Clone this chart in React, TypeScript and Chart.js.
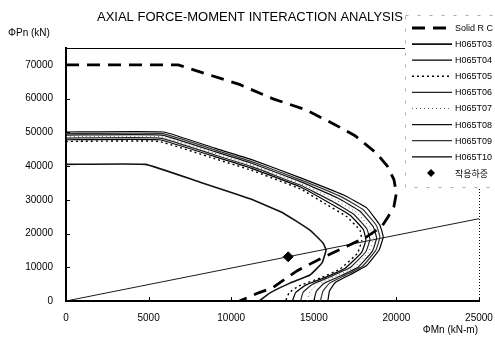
import React, { useEffect, useRef } from "react";
import { Chart, registerables } from "chart.js";

Chart.register(...registerables);

const titleText = "AXIAL FORCE-MOMENT INTERACTION ANALYSIS";
const xTitle = "ΦMn (kN-m)";
const yTitle = "ΦPn (kN)";
const xTicks = [0, 5000, 10000, 15000, 20000, 25000];
const yTicks = [0, 10000, 20000, 30000, 40000, 50000, 60000, 70000];

const solidRCM = [0, 6800, 8500, 10500, 12500, 14500, 16200, 17500, 18800, 19450, 19850, 20000, 19850, 19500, 19100, 18200, 17000, 15500, 14000, 12500, 11700, 10500];
const solidRCP = [70000, 70000, 67300, 64200, 60000, 56700, 52500, 49000, 43800, 40000, 36000, 32000, 28000, 25000, 22000, 19000, 16200, 12800, 9000, 3900, 2500, 0];

const t03M = [0, 4800, 8000, 11140, 13140, 14770, 15560, 15740, 15500, 14770, 13560, 12350, 11700];
const t03P = [40500, 40500, 35400, 30300, 26100, 21000, 17200, 15100, 11300, 7700, 5300, 2400, 0];

const t04M = [0, 5650, 9000, 11200, 14200, 15900, 17200, 18000, 18150, 17900, 16900, 15700, 14500, 13900, 13700];
const t04P = [47800, 47800, 42800, 39400, 33800, 29200, 25400, 21200, 18100, 14400, 9700, 7000, 4700, 2500, 0];

const t05M = [0, 5600, 9000, 11200, 14200, 15700, 17000, 17800, 17900, 17650, 16600, 15400, 14100, 13500, 13300];
const t05P = [47300, 47300, 42200, 38800, 33200, 28800, 25000, 20900, 17900, 14200, 9500, 6800, 4500, 2400, 0];

const t06M = [0, 5700, 9000, 11200, 14200, 16100, 17400, 18200, 18400, 18150, 17200, 16000, 14900, 14350, 14200];
const t06P = [48300, 48300, 43300, 39900, 34300, 29600, 25800, 21500, 18300, 14600, 9900, 7200, 4900, 2600, 0];

const t07M = [0, 5750, 9000, 11200, 14200, 16300, 17600, 18400, 18600, 18350, 17450, 16300, 15250, 14750, 14600];
const t07P = [48700, 48700, 43800, 40400, 34800, 30000, 26200, 21800, 18500, 14700, 10000, 7300, 5000, 2700, 0];

const t08M = [0, 5800, 9000, 11200, 14200, 16500, 17800, 18600, 18800, 18550, 17700, 16600, 15600, 15150, 15000];
const t08P = [49200, 49200, 44300, 40900, 35400, 30400, 26600, 22000, 18700, 14800, 10100, 7400, 5200, 2800, 0];

const t09M = [0, 5850, 9000, 11200, 14200, 16700, 18000, 18800, 19000, 18750, 17950, 16900, 15950, 15550, 15400];
const t09P = [49600, 49600, 44800, 41400, 35900, 30800, 27000, 22300, 18900, 15000, 10300, 7600, 5300, 2900, 0];

const t10M = [0, 5900, 9000, 11200, 14200, 16800, 18200, 19000, 19200, 18950, 18200, 17200, 16300, 15950, 15850];
const t10P = [50100, 50100, 45300, 42000, 36500, 31400, 27600, 22500, 19000, 15100, 10500, 7800, 5500, 3000, 0];

const loadLineM = [0, 25000];
const loadLineP = [0, 24400];
const loadPointM = [13450];
const loadPointP = [13100];

const FONT = "'Liberation Sans', Arial, sans-serif";

function pts(m: number[], p: number[]) {
  return m.map((v, i) => ({ x: v, y: p[i] }));
}

function curve(label: string, m: number[], p: number[], color: string, width: number, dash: number[], tension: number) {
  return {
    label,
    data: pts(m, p),
    showLine: true,
    borderColor: color,
    backgroundColor: color,
    borderWidth: width,
    borderDash: dash,
    pointRadius: 0,
    tension,
    fill: false,
  };
}

const framePlugin = {
  id: "frameAndLegend",
  afterDraw(chart: any) {
    const ctx = chart.ctx as CanvasRenderingContext2D;
    const { left, right, top, bottom } = chart.chartArea;
    const xs = chart.scales.x;
    const ys = chart.scales.y;
    ctx.save();
    ctx.strokeStyle = "#000";
    ctx.lineWidth = 1;
    ctx.setLineDash([]);
    ctx.beginPath();
    ctx.moveTo(left, top + 0.5);
    ctx.lineTo(right, top + 0.5);
    ctx.stroke();
    ctx.setLineDash([1, 2]);
    ctx.beginPath();
    ctx.moveTo(right + 0.5, top);
    ctx.lineTo(right + 0.5, bottom);
    ctx.stroke();
    ctx.setLineDash([]);
    ctx.lineWidth = 1;
    xTicks.forEach((v) => {
      const px = Math.round(xs.getPixelForValue(v)) + 0.5;
      ctx.beginPath();
      ctx.moveTo(px, bottom);
      ctx.lineTo(px, bottom - 4);
      ctx.stroke();
    });
    yTicks.forEach((v) => {
      const py = Math.round(ys.getPixelForValue(v)) + 0.5;
      ctx.beginPath();
      ctx.moveTo(left, py);
      ctx.lineTo(left + 4, py);
      ctx.stroke();
    });
    ctx.fillStyle = "#000";
    ctx.font = `13px ${FONT}`;
    ctx.textAlign = "center";
    ctx.textBaseline = "middle";
    ctx.fillText(titleText, 250, 17);
    ctx.font = `10px ${FONT}`;
    ctx.textAlign = "left";
    ctx.fillText(yTitle, 8, 33);
    ctx.textAlign = "right";
    ctx.fillText(xTitle, 478, 330);

    const bx = 405, by = 15, bw = 100, bh = 172;
    ctx.fillStyle = "#fff";
    ctx.fillRect(bx, by, bw, bh);
    ctx.strokeStyle = "#999";
    ctx.lineWidth = 0.8;
    ctx.setLineDash([3, 9]);
    ctx.strokeRect(bx + 0.5, by + 0.5, bw, bh);
    ctx.setLineDash([]);

    const items = chart.data.datasets.filter((d: any) => d.inLegend);
    items.forEach((d: any, i: number) => {
      const cy = 28 + i * 16.1;
      ctx.strokeStyle = d.borderColor;
      if (d.isPoint) {
        ctx.fillStyle = "#000";
        ctx.beginPath();
        ctx.moveTo(431, cy - 4);
        ctx.lineTo(435, cy);
        ctx.lineTo(431, cy + 4);
        ctx.lineTo(427, cy);
        ctx.closePath();
        ctx.fill();
      } else {
        ctx.lineWidth = d.borderWidth;
        ctx.setLineDash(d.borderDash || []);
        ctx.beginPath();
        ctx.moveTo(412, cy);
        ctx.lineTo(452, cy);
        ctx.stroke();
        ctx.setLineDash([]);
      }
      ctx.fillStyle = "#000";
      ctx.textAlign = "left";
      ctx.textBaseline = "middle";
      ctx.font = d.isPoint
        ? `9px 'Noto Sans CJK KR', ${FONT}`
        : `9px ${FONT}`;
      ctx.fillText(d.label, 455, cy + 0.5);
    });
    ctx.restore();
  },
};

export default function App() {
  const ref = useRef<HTMLCanvasElement | null>(null);
  useEffect(() => {
    if (!ref.current) return;
    Chart.defaults.font.family = FONT;
    const datasets: any[] = [
      { ...curve("Solid R C", solidRCM, solidRCP, "#000", 2.8, [13, 8], 0), inLegend: true },
      { ...curve("H065T03", t03M, t03P, "#111", 1.6, [], 0.1), inLegend: true },
      { ...curve("H065T04", t04M, t04P, "#000", 1.2, [], 0.1), inLegend: true },
      { ...curve("H065T05", t05M, t05P, "#000", 1.4, [2, 3], 0.1), inLegend: true },
      { ...curve("H065T06", t06M, t06P, "#222", 1.2, [], 0.1), inLegend: true },
      { ...curve("H065T07", t07M, t07P, "#666", 1, [1, 3], 0.1), inLegend: true },
      { ...curve("H065T08", t08M, t08P, "#111", 1.2, [], 0.1), inLegend: true },
      { ...curve("H065T09", t09M, t09P, "#333", 1.2, [], 0.1), inLegend: true },
      { ...curve("H065T10", t10M, t10P, "#000", 1.2, [], 0.1), inLegend: true },
      {
        label: "작용하중",
        data: pts(loadPointM, loadPointP),
        showLine: false,
        pointStyle: "rectRot",
        pointRadius: 5,
        borderColor: "#000",
        backgroundColor: "#000",
        inLegend: true,
        isPoint: true,
      },
      {
        label: "load line",
        data: pts(loadLineM, loadLineP),
        showLine: true,
        borderColor: "#000",
        borderWidth: 0.9,
        pointRadius: 0,
        inLegend: false,
      },
    ];
    const chart = new Chart(ref.current, {
      type: "scatter",
      data: { datasets },
      plugins: [framePlugin],
      options: {
        animation: false,
        responsive: false,
        layout: { padding: { top: 48, right: 16, left: 0, bottom: 0 } },
        plugins: { legend: { display: false }, tooltip: { enabled: false }, title: { display: false } },
        scales: {
          x: {
            type: "linear",
            min: 0,
            max: 25000,
            afterBuildTicks: (s: any) => {
              s.ticks = xTicks.map((v) => ({ value: v }));
            },
            afterFit: (s: any) => {
              s.height = 39;
              s.paddingLeft = 0;
              s.paddingRight = 0;
            },
            ticks: {
              callback: (v: any) => String(v),
              color: "#000",
              font: { size: 10 },
              padding: 11,
              maxRotation: 0,
            },
            grid: { display: false, drawTicks: false },
            border: { display: true, color: "#000", width: 2 },
          },
          y: {
            type: "linear",
            min: 0,
            max: 75000,
            afterBuildTicks: (s: any) => {
              s.ticks = yTicks.map((v) => ({ value: v }));
            },
            afterFit: (s: any) => {
              s.width = 66;
              s.paddingTop = 0;
              s.paddingBottom = 0;
            },
            ticks: {
              callback: (v: any) => String(v),
              color: "#000",
              font: { size: 10 },
              padding: 13,
            },
            grid: { display: false, drawTicks: false },
            border: { display: true, color: "#000", width: 2 },
          },
        },
      },
    });
    return () => chart.destroy();
  }, []);
  return (
    <div style={{ position: "fixed", left: 0, top: 0, width: 495, height: 340, background: "#fff" }}>
      <canvas ref={ref} width={495} height={340} style={{ width: 495, height: 340 }} />
    </div>
  );
}
